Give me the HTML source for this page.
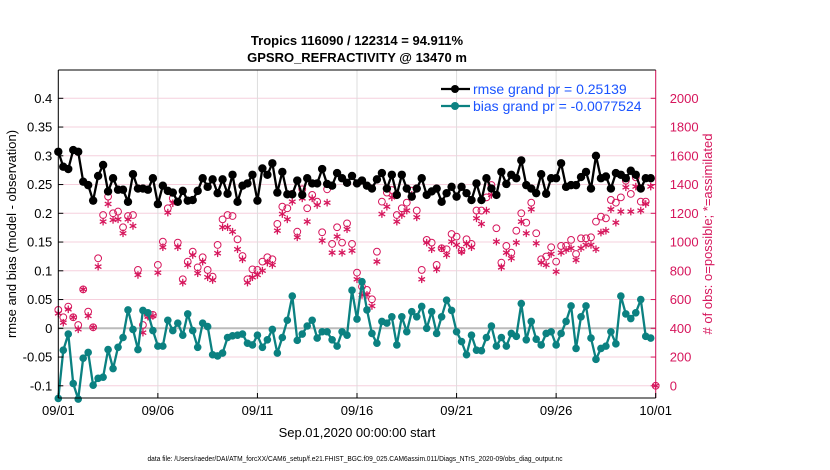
<!DOCTYPE html>
<html><head><meta charset="utf-8"><style>
html,body{margin:0;padding:0;background:#fff;}
svg{display:block;font-family:"Liberation Sans",sans-serif;}
</style></head><body>
<svg id="chart" width="830" height="470" viewBox="0 0 830 470" xmlns="http://www.w3.org/2000/svg">
<rect width="830" height="470" fill="#fff"/>
<text x="357" y="45" text-anchor="middle" font-size="13" font-weight="bold">Tropics 116090 / 122314 = 94.911%</text>
<text x="357" y="62" text-anchor="middle" font-size="13" font-weight="bold">GPSRO_REFRACTIVITY @ 13470 m</text>
<g id="grid"></g><g id="marks"></g><g id="axes"></g>
<text transform="translate(16,234) rotate(-90)" text-anchor="middle" font-size="13">rmse and bias (model - observation)</text>
<text transform="translate(712,234) rotate(-90)" text-anchor="middle" font-size="13" fill="#d6165c"># of obs: o=possible; *=assimilated</text>
<text x="357" y="437" text-anchor="middle" font-size="13">Sep.01,2020 00:00:00 start</text>
<text x="355" y="461" text-anchor="middle" font-size="7" textLength="415" lengthAdjust="spacingAndGlyphs">data file: /Users/raeder/DAI/ATM_forcXX/CAM6_setup/f.e21.FHIST_BGC.f09_025.CAM6assim.011/Diags_NTrS_2020-09/obs_diag_output.nc</text>
<g id="legend"></g>
</svg>
<script>
const xTickLabels=["09/01","09/06","09/11","09/16","09/21","09/26","10/01"];
const yTicksLeft=[-0.1,-0.05,0,0.05,0.1,0.15,0.2,0.25,0.3,0.35,0.4];
const yTicksRight=[0,200,400,600,800,1000,1200,1400,1600,1800,2000];
const rmse=[.307,.281,.277,.310,.307,.255,.249,.222,.265,.284,.238,.261,.241,.241,.220,.268,.243,.243,.241,.261,.216,.248,.239,.236,.220,.239,.222,.223,.239,.261,.246,.259,.235,.259,.234,.267,.220,.248,.252,.267,.222,.278,.267,.287,.236,.272,.233,.233,.257,.232,.261,.252,.252,.277,.251,.248,.270,.261,.253,.265,.252,
.257,.248,.243,.259,.270,.243,.267,.232,.267,.243,.229,.243,.261,.232,.238,.243,.220,.235,.246,.229,.246,.235,.223,.252,.223,.261,.243,.232,.272,.251,.267,.261,.292,.249,.243,.235,.268,.234,.261,.261,.287,.246,.249,.249,.263,.272,.243,.300,.261,.264,.243,.270,.267,.261,.274,.267,.243,.261,.261,null];
const bias=[-.122,-.038,-.010,-.096,-.123,-.052,-.042,-.099,-.087,-.085,-.037,-.070,-.033,-.016,.032,-.002,-.037,.031,.027,-.004,-.031,-.031,.014,-.004,.009,-.012,.025,-.004,-.033,.009,.003,-.046,-.048,-.043,-.016,-.013,-.012,-.010,-.026,-.029,-.012,-.033,-.020,-.002,-.043,-.016,.014,.056,-.021,-.010,.004,.014,-.017,-.006,-.006,-.020,-.031,-.006,-.012,.066,.016,
.081,.032,-.009,-.026,.012,.009,.020,-.029,.020,-.006,.029,.020,.038,0,.029,-.009,.020,.049,.031,-.006,-.023,-.046,-.012,-.038,-.039,-.016,.004,-.031,-.016,-.031,-.009,-.014,.043,-.020,.012,-.019,-.029,-.009,-.006,-.029,-.009,.012,.039,-.035,.020,.039,-.017,-.054,-.035,-.031,-.006,-.027,.056,.025,.017,.027,.050,-.014,-.017,null];
const possible=[528,477,551,477,423,671,516,407,887,1188,1316,1200,1212,1103,1181,1188,806,423,493,493,841,1003,1235,1304,996,741,864,933,824,894,806,759,980,1158,1188,1181,1019,903,741,810,806,864,894,880,1126,1246,1235,1335,1072,1367,1235,1328,1281,1068,1367,987,1103,996,1130,987,787,
690,667,602,933,1281,1344,1362,1188,1235,1274,1358,1219,806,1015,996,841,957,950,1056,1038,940,1019,987,1219,1219,1311,1397,1096,857,973,926,1079,1200,1135,1274,1061,880,899,964,864,973,973,1015,917,1026,1026,1033,1142,1177,1165,1293,1274,1311,1427,1335,1450,1281,1281,1444,0];
const assimilated=[504,439,532,477,393,671,486,407,829,1142,1265,1154,1158,1061,1158,1112,771,370,481,486,787,964,1205,1270,964,718,841,910,783,864,755,736,922,1103,1103,1072,950,880,718,755,771,801,857,841,1079,1195,1158,1281,1033,1304,1142,1304,1258,1010,1274,926,1038,926,1089,940,741,
632,632,555,864,1195,1246,1311,1142,1188,1219,1328,1172,741,996,950,810,957,910,1003,980,933,987,964,1165,1126,1219,1328,1003,824,926,887,996,1142,1061,1228,991,857,841,917,794,926,945,957,875,957,980,980,950,1066,1079,1228,1135,1212,1381,1212,1386,1219,1265,1386,0];

const X0=58.3,X1=655.7,NDAYS=30;
const xs=i=>X0+(i*0.25)*(X1-X0)/NDAYS;
const yL=v=>328.3-v*575;
const yR=c=>yL((c-400)/4000);
const NS="http://www.w3.org/2000/svg";
function mk(tag,attrs,parent){const e=document.createElementNS(NS,tag);for(const k in attrs)e.setAttribute(k,attrs[k]);parent.appendChild(e);return e;}
const grid=document.getElementById('grid'),marks=document.getElementById('marks'),axes=document.getElementById('axes'),legend=document.getElementById('legend');
const TOP=70,BOT=398;
yTicksLeft.forEach(v=>{
  const l=mk('line',{x1:X0,x2:X1,y1:yL(v),y2:yL(v),stroke:'#f6d0dd','stroke-width':1},grid);
  
  
});
xTickLabels.forEach((t,k)=>{
  const x=X0+k*5*(X1-X0)/NDAYS;
  const l=mk('line',{x1:x,x2:x,y1:TOP,y2:BOT,stroke:'#dddddd','stroke-width':1},grid);
  
  
});
const z=mk('line',{x1:X0,x2:X1,y1:yL(0),y2:yL(0),stroke:'#bbbbbb','stroke-width':2},grid);



function star(x,y,parent){
  const g=mk('g',{stroke:'#d6165c','stroke-width':1.3},parent);
  const r=3.8;
  [[0,1],[0.87,0.5],[0.87,-0.5]].forEach(([a,b])=>{
    const l=mk('line',{x1:x-a*r,y1:y-b*r,x2:x+a*r,y2:y+b*r},g);
    
    
  });
  return g;
}
possible.forEach((c,i)=>{
  const e=mk('circle',{cx:xs(i),cy:yR(c),r:3.4,fill:'none',stroke:'#d6165c','stroke-width':1},marks);
  
  
});
assimilated.forEach((c,i)=>{
  const e=star(xs(i),yR(c),marks);
  
  
});
function series(vals,color,name,rad){
  let d='';let pen=false;
  vals.forEach((v,i)=>{if(v===null){pen=false;return;}d+=(pen?'L':'M')+xs(i).toFixed(1)+' '+yL(v).toFixed(1);pen=true;});
  const p=mk('path',{d:d,fill:'none',stroke:color,'stroke-width':2.3,'stroke-linejoin':'round'},marks);
  
  
  vals.forEach((v,i)=>{if(v===null)return;
    const c=mk('circle',{cx:xs(i),cy:yL(v),r:rad,fill:color},marks);
    
    
  });
}
series(bias,'#0b8181','bias',3.8);
series(rmse,'#000000','rmse',4.2);

const a1=mk('line',{x1:X0,x2:X0,y1:TOP,y2:BOT,stroke:'#000','stroke-width':1},axes);


const a2=mk('line',{x1:X1,x2:X1,y1:TOP,y2:BOT,stroke:'#d6165c','stroke-width':1},axes);


const a3=mk('line',{x1:X0,x2:X1,y1:BOT,y2:BOT,stroke:'#000','stroke-width':1},axes);


const a4=mk('line',{x1:X0,x2:X1,y1:TOP,y2:TOP,stroke:'#000','stroke-width':1},axes);


yTicksLeft.forEach(v=>{
  mk('line',{x1:X0,x2:X0+5,y1:yL(v),y2:yL(v),stroke:'#000'},axes);
  const t=mk('text',{x:X0-6,y:yL(v)+4.5,'text-anchor':'end','font-size':13},axes);
  t.textContent=String(v);
  
  
});
yTicksRight.forEach(c=>{
  mk('line',{x1:X1-5,x2:X1,y1:yR(c),y2:yR(c),stroke:'#d6165c'},axes);
  const t=mk('text',{x:X1+14,y:yR(c)+4.5,'font-size':13,fill:'#d6165c'},axes);
  t.textContent=c;
  
  
});
xTickLabels.forEach((lab,k)=>{
  const x=X0+k*5*(X1-X0)/NDAYS;
  mk('line',{x1:x,x2:x,y1:BOT-5,y2:BOT,stroke:'#000'},axes);
  const t=mk('text',{x:x,y:415,'text-anchor':'middle','font-size':13},axes);
  t.textContent=lab;
  
  
});
[['rmse grand pr = 0.25139','#000',89,'legend-entry-rmse'],['bias grand pr = -0.0077524','#0b8181',106,'legend-entry-bias']].forEach(([txt,col,y,nm])=>{
  const g=mk('g',{},legend);
  
  
  mk('line',{x1:441,x2:470,y1:y,y2:y,stroke:col,'stroke-width':2.3},g);
  const m=mk('circle',{cx:455,cy:y,r:4,fill:col},g);
  
  
  const t=mk('text',{x:473,y:y+5,'font-size':14,fill:'#1a53ff'},g);
  t.textContent=txt;
});
</script>
</body></html>
